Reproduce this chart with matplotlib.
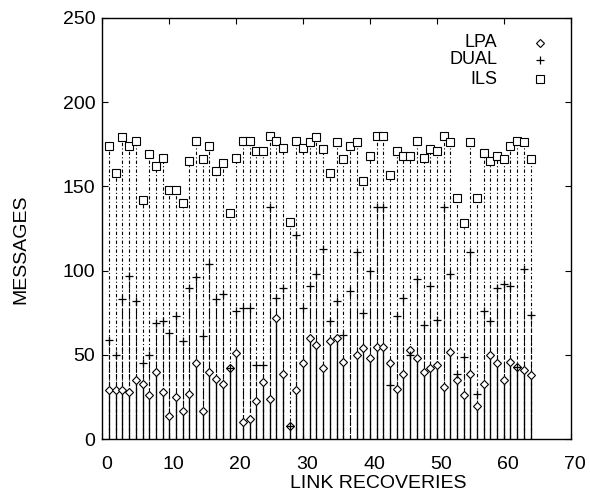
import numpy as np
import matplotlib
matplotlib.use("Agg")
import matplotlib.pyplot as plt
from matplotlib.transforms import ScaledTranslation

plt.rcParams['font.family'] = ['Liberation Sans', 'DejaVu Sans']

# recuperaciones de enlace 1..64
recoveries = list(range(1, 65))

# None: no se ve el punto en la figura original
lpa = [29, 29, 29, 28, 35, 33, 26, 40, 28, 14, 25, 17, 27, 45, 17, 40,
       36, 33, 42, 51, 10, 12, 23, 34, 24, 72, 39, 8, 29, 45, 60, 56,
       42, 58, 60, 46, None, 50, 54, 48, 55, 55, 45, 30, 39, 53, 48, 40,
       42, 44, 31, 52, 35, 26, 39, 20, 33, 50, 45, 35, 46, 43, 41, 38]

dual = [59, 50, 83, 97, 82, 45, 50, 69, 70, 63, 73, 58, 90, 96, 61, 104,
        83, 86, 42, 76, 78, 78, 44, 44, 138, 84, 90, 8, 121, 78, 91, 98,
        113, 70, 82, 62, 88, 111, 75, 100, 138, 138, 32, 73, 84, 50, 95, 68,
        91, 71, 138, 98, 39, 49, 111, 27, 76, 70, 90, 92, 91, 43, 101, 74]

ils = [174, 158, 179, 174, 177, 142, 169, 162, 167, 148, 148, 140, 165, 177, 166, 174,
       159, 164, 134, 167, 177, 177, 171, 171, 180, 177, 173, 129, 177, 173, 176, 179,
       172, 158, 176, 166, 174, 176, 153, 168, 180, 180, 157, 171, 168, 168, 177, 167,
       172, 171, 180, 176, 143, 128, 176, 143, 170, 165, 168, 166, 174, 177, 176, 166]

lpa = np.array(lpa, dtype=float)

series = [("LPA", lpa, dict(marker='D', markersize=3.6, markerfacecolor='white',
                            markeredgecolor='black', markeredgewidth=0.8)),
          ("DUAL", dual, dict(marker='+', markersize=5.5, color='black', markeredgewidth=0.9)),
          ("ILS", ils, dict(marker='s', markersize=5.2, markerfacecolor='white',
                            markeredgecolor='black', markeredgewidth=0.8))]

fig = plt.figure(figsize=(5.9, 4.93), dpi=100)
ax = fig.add_axes([0.1736, 0.1089, 0.7937, 0.8552])

# impulsos (gnuplot "with impulses")
ax.vlines(recoveries, 0, ils, colors='black', linewidth=0.8, linestyles=(0, (3, 2, 1, 2)))
ax.vlines(recoveries, 0, dual, colors='black', linewidth=0.8, linestyles=(0, (4, 2)))
ax.vlines(recoveries, 0, np.nan_to_num(lpa), colors='black', linewidth=0.9, linestyles='solid')

for nombre, valores, estilo in series:
    ax.plot(recoveries, valores, linestyle='none', **estilo)

ax.set_xlim(0, 70)
ax.set_ylim(0, 250)
ax.set_xticks(range(0, 71, 10))
ax.set_yticks(range(0, 251, 50))
ax.tick_params(direction='in', length=4, top=True, right=True, labelsize=14)
ax.tick_params(axis='x', pad=12)
ax.tick_params(axis='y', pad=5)
for s in ax.spines.values():
    s.set_linewidth(1.0)
# gnuplot deja las etiquetas del eje x un poco corridas
for lab in ax.get_xticklabels():
    lab.set_transform(lab.get_transform() + ScaledTranslation(4 / 100, 0, fig.dpi_scale_trans))

ax.set_xlabel("LINK RECOVERIES", fontsize=14)
ax.set_ylabel("MESSAGES", fontsize=14)
ax.xaxis.set_label_coords(0.59, -0.085)
ax.yaxis.set_label_coords(-0.155, 0.45)

# leyenda a mano: texto alineado a la derecha y el punto a su lado
filas = [0.9407, 0.8997, 0.8539]
for (nombre, valores, estilo), yy in zip(series, filas):
    ax.text(0.843, yy, nombre, transform=ax.transAxes, ha='right', va='center', fontsize=13)
    ax.plot([0.934], [yy], transform=ax.transAxes, linestyle='none', clip_on=False, **estilo)

fig.savefig("out.png", dpi=100)
